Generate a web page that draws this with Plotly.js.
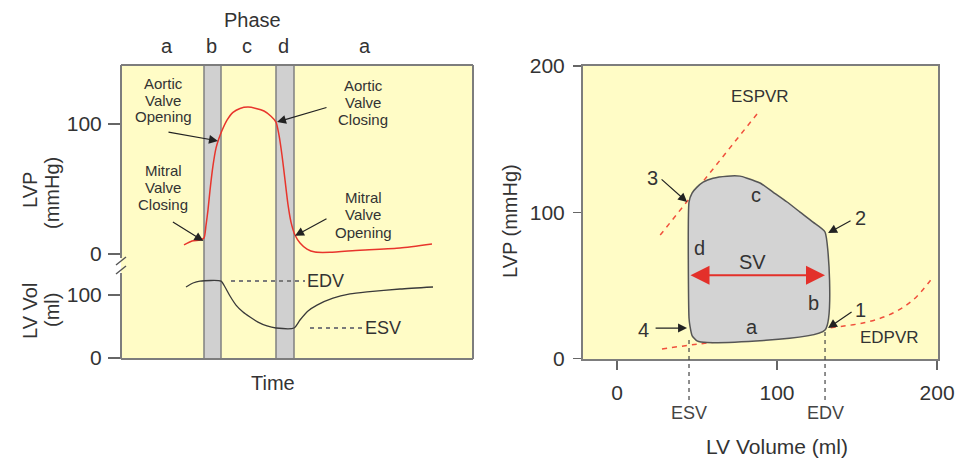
<!DOCTYPE html>
<html>
<head>
<meta charset="utf-8">
<script src="https://cdn.plot.ly/plotly-3.0.1.min.js"></script>
<style>html,body{margin:0;padding:0;background:#fff;}#chart{width:957px;height:461px;}</style>
</head>
<body>
<div id="chart"></div>
<script>
// ---------- data (left panel: time course, time in ms) ----------
const lvpTime = [157.5,177.5,197.5,207.5,212.5,217.5,222.5,230,237.5,245,252.5,265,280,297.5,317.5,337.5,357.5,375,387.5,395,402.5,410,417.5,425,435,447.5,465,485,522.5,597.5,697.5,777.5];
const lvpValues = [7,10,10.8,12.3,22,34,49,68,81.5,89,95,103,109,112,113,112,110,106,101.5,91.5,76,57,38,24.6,14.6,8.5,3.8,1.5,1.3,3,4.6,7.7];
const volTime = [162.5,180,197.5,250,260,272.5,287.5,305,322.5,342.5,365,387.5,432.5,447.5,467.5,490,530,572.5,615,697.5,780];
const volValues = [112.7,119,122,122,112.7,98.4,84,73,65,57,50.8,47.6,47.6,60.3,74.6,84,95,101.6,104.8,109.5,112.7];
const phaseNames = ['a','b','c','d','a'];
const phaseLabelTime = [115,225,315,405,610];
const isoPhaseStart = [207.5,387.5];   // phases b and d (isovolumetric)
const isoPhaseEnd = [250,432.5];
const edvLeft = 122, esvLeft = 47.6;
const edvLineTime = [275,460], esvLineTime = [472.5,602.5];
const pressureTicks = [0,100], volumeTicks = [0,100];

// ---------- data (right panel: pressure-volume loop) ----------
const loopVolume = [130,122.5,114.4,106.3,97.5,89.4,81.3,76.9,68.8,60,53.8,50,46.9,45,45,45.6,47,50,56.3,130,130];
const loopPressure = [86.5,93.3,100.1,107,113.8,120,123.3,124.7,124.7,123.3,120.6,117.2,113.1,107,27.7,22.2,15.5,12,10.9,19.5,86.5];
const espvrVolume = [27,89.4], espvrPressure = [84.4,169.8];
const edpvrVolume = [28.1,45.6,56.3,95.6,131.9,156.3,172.5,185,197.5];
const edpvrPressure = [6.5,9.2,10.6,15.4,20.8,24.9,31.1,40,55.7];
const esvR = 45, edvR = 130, svPressure = 57;
const volTicks = [0,100,200], pvTicks = [0,100,200];

// ---------- style ----------
const FONT = 'Liberation Sans, Arial, Helvetica, sans-serif';
const TXT = '#333333';
const W = 957, H = 461;
const px = x => x / W, py = y => 1 - y / H;
const YELLOW = '#fffcc6', FRAME = '#7d7d7d';

const traces = [
  {x: lvpTime, y: lvpValues, xaxis:'x', yaxis:'y', mode:'lines', line:{color:'#e8352c', width:1.5, shape:'spline', smoothing:0.6}, hoverinfo:'skip'},
  {x: volTime, y: volValues, xaxis:'x', yaxis:'y3', mode:'lines', line:{color:'#3a3a3a', width:1.3, shape:'spline', smoothing:0.6}, hoverinfo:'skip'},
  {x: edvLineTime, y: [edvLeft, edvLeft], xaxis:'x', yaxis:'y3', mode:'lines', line:{color:'#7a7a7a', width:2, dash:'4px,4px'}, hoverinfo:'skip'},
  {x: esvLineTime, y: [esvLeft, esvLeft], xaxis:'x', yaxis:'y3', mode:'lines', line:{color:'#7a7a7a', width:2, dash:'4px,4px'}, hoverinfo:'skip'},
  {x: espvrVolume, y: espvrPressure, xaxis:'x2', yaxis:'y2', mode:'lines', line:{color:'#f0503c', width:1.5, dash:'5px,5px'}, hoverinfo:'skip'},
  {x: edpvrVolume, y: edpvrPressure, xaxis:'x2', yaxis:'y2', mode:'lines', line:{color:'#f0503c', width:1.5, dash:'5px,5px', shape:'spline'}, hoverinfo:'skip'},
  {x: loopVolume, y: loopPressure, xaxis:'x2', yaxis:'y2', mode:'lines', fill:'toself', fillcolor:'#d3d3d3', line:{color:'#555555', width:1.5, shape:'spline', smoothing:0.5}, hoverinfo:'skip'}
];

const shapes = [];
// isovolumetric phase bars
for (let i = 0; i < isoPhaseStart.length; i++) {
  shapes.push({type:'rect', xref:'x', yref:'paper', x0:isoPhaseStart[i], x1:isoPhaseEnd[i], y0:py(359), y1:py(65),
    fillcolor:'#d0d0d0', line:{color:'#808080', width:1.5}, layer:'below'});
}
// left frame with axis break
const frameSeg = [[121,65,473,65],[473,65,473,359],[121,359,473,359],[121,65,121,258],[121,273,121,359]];
frameSeg.forEach(s => shapes.push({type:'line', xref:'paper', yref:'paper', x0:px(s[0]), y0:py(s[1]), x1:px(s[2]), y1:py(s[3]), line:{color:FRAME, width:2}}));
shapes.push({type:'line', xref:'paper', yref:'paper', x0:px(116), y0:py(265), x1:px(126), y1:py(257), line:{color:'#555', width:1.5}});
shapes.push({type:'line', xref:'paper', yref:'paper', x0:px(116), y0:py(274), x1:px(126), y1:py(266), line:{color:'#555', width:1.5}});
// ESV / EDV drop lines in the PV panel
[[esvR,340],[edvR,331]].forEach(d => shapes.push({type:'line', xref:'x2', yref:'paper', x0:d[0], x1:d[0], y0:py(400), y1:py(d[1]),
  line:{color:'#444', width:1.2, dash:'4px,4px'}}));

const annotations = [];
const txt = (o) => Object.assign({showarrow:false, xanchor:'center', yanchor:'middle', font:{family:FONT, size:20, color:TXT}}, o);
// phase header
annotations.push(txt({xref:'x', yref:'paper', x:327.5, y:py(20), text:'Phase'}));
phaseNames.forEach((n, i) => annotations.push(txt({xref:'x', yref:'paper', x:phaseLabelTime[i], y:py(46), text:n})));
annotations.push(txt({xref:'x', yref:'paper', x:380, y:py(383), text:'Time'}));
// left valve labels
const valveLabels = [
  {lines:['Aortic','Valve','Opening'], x:105, y:83},
  {lines:['Mitral','Valve','Closing'], x:105, y:170},
  {lines:['Aortic','Valve','Closing'], x:605, y:85},
  {lines:['Mitral','Valve','Opening'], x:605, y:198}
];
valveLabels.forEach(v => v.lines.forEach((l, i) => annotations.push(txt({xref:'x', yref:'paper', x:v.x, y:py(v.y + 17*i), text:l, font:{family:FONT, size:15, color:TXT}}))));
const arrow = (o) => Object.assign({text:'', showarrow:true, arrowhead:2, arrowsize:1.5, arrowwidth:1.2, arrowcolor:'#222', standoff:0}, o);
annotations.push(arrow({xref:'x', yref:'y', x:242.5, y:87, ax:-51, ay:-9}));
annotations.push(arrow({xref:'x', yref:'y', x:390, y:101.5, ax:51, ay:-15}));
annotations.push(arrow({xref:'x', yref:'y', x:206, y:10, ax:-32, ay:-20}));
annotations.push(arrow({xref:'x', yref:'y', x:435, y:14, ax:33, ay:-18}));
annotations.push(txt({xref:'x', yref:'y3', x:512, y:edvLeft, text:'EDV', font:{family:FONT, size:18, color:TXT}}));
annotations.push(txt({xref:'x', yref:'y3', x:655, y:esvLeft, text:'ESV', font:{family:FONT, size:18, color:TXT}}));
// left y titles
[['LVP',30,190],['(mmHg)',52,193],['LV Vol',30,311],['(ml)',52,310]].forEach(t =>
  annotations.push(txt({xref:'paper', yref:'paper', x:px(t[1]), y:py(t[2]), text:t[0], textangle:-90})));

// right panel labels
annotations.push(txt({xref:'x2', yref:'y2', x:89.4, y:179, text:'ESPVR', font:{family:FONT, size:17, color:TXT}}));
annotations.push(txt({xref:'x2', yref:'y2', x:170.6, y:14.7, text:'EDPVR', font:{family:FONT, size:17, color:TXT}}));
[['c',86.9,111.8],['d',51.3,75.5],['b',122.5,38],['a',84.4,21.5],['SV',84.4,66],['1',151.9,33],['2',151.9,96],['3',21.9,123.4],['4',16.3,19.5]].forEach(t =>
  annotations.push(txt({xref:'x2', yref:'y2', x:t[1], y:t[2], text:t[0]})));
annotations.push(arrow({xref:'x2', yref:'y2', x:131.9, y:20.8, ax:25, ay:-17}));
annotations.push(arrow({xref:'x2', yref:'y2', x:131.9, y:85.8, ax:24, ay:-13}));
annotations.push(arrow({xref:'x2', yref:'y2', x:43.8, y:107, ax:-27, ay:-24}));
annotations.push(arrow({xref:'x2', yref:'y2', x:43.8, y:20.8, ax:-33, ay:0}));
// stroke volume double arrow
annotations.push({xref:'x2', yref:'y2', axref:'x2', ayref:'y2', x:edvR, y:svPressure, ax:esvR, ay:svPressure, text:'',
  showarrow:true, arrowside:'end+start', arrowhead:2, arrowsize:1.9, arrowwidth:2, arrowcolor:'#e3302a', standoff:0, startstandoff:0});
annotations.push(txt({xref:'x2', yref:'paper', x:esvR, y:py(413), text:'ESV', font:{family:FONT, size:18, color:'#444'}}));
annotations.push(txt({xref:'x2', yref:'paper', x:edvR, y:py(413), text:'EDV', font:{family:FONT, size:18, color:'#444'}}));
annotations.push(txt({xref:'x2', yref:'paper', x:100, y:py(446), text:'LV Volume (ml)', font:{family:FONT, size:21, color:TXT}}));
annotations.push(txt({xref:'paper', yref:'paper', x:px(510), y:py(221), text:'LVP (mmHg)', textangle:-90}));

const tickFont = {family:FONT, size:21, color:TXT};
const layout = {
  width: W, height: H,
  margin: {l:0, r:0, t:0, b:0},
  paper_bgcolor: '#ffffff', plot_bgcolor: YELLOW,
  showlegend: false,
  font: {family: FONT, color: TXT},
  xaxis: {domain:[px(121), px(473)], range:[0,880], anchor:'y3', visible:false, fixedrange:true},
  yaxis: {domain:[py(266), py(65)], range:[-9.2,145.4], anchor:'x', tickvals:pressureTicks, ticks:'outside', ticklen:12, tickwidth:1.5, tickcolor:'#666',
          showgrid:false, zeroline:false, showline:false, tickfont:tickFont, ticklabelstandoff:2},
  yaxis3: {domain:[py(359), py(266)], range:[-1.6,146], anchor:'x', tickvals:volumeTicks, ticks:'outside', ticklen:12, tickwidth:1.5, tickcolor:'#666',
          showgrid:false, zeroline:false, showline:false, tickfont:tickFont, ticklabelstandoff:2},
  xaxis2: {domain:[px(583), px(938)], range:[-21.25,200.6], anchor:'y2', tickvals:volTicks, ticks:'outside', ticklen:9, tickwidth:1.5, tickcolor:'#666',
          showgrid:false, zeroline:false, showline:true, mirror:true, linecolor:FRAME, linewidth:2, tickfont:tickFont, ticklabelstandoff:5},
  yaxis2: {domain:[py(359), py(66)], range:[-0.34,200], anchor:'x2', tickvals:pvTicks, ticks:'outside', ticklen:8, tickwidth:1.5, tickcolor:'#666',
          showgrid:false, zeroline:false, showline:true, mirror:true, linecolor:FRAME, linewidth:2, tickfont:tickFont, ticklabelstandoff:4},
  shapes: shapes,
  annotations: annotations
};
Plotly.newPlot('chart', traces, layout, {staticPlot:true, displayModeBar:false});
</script>
</body>
</html>
